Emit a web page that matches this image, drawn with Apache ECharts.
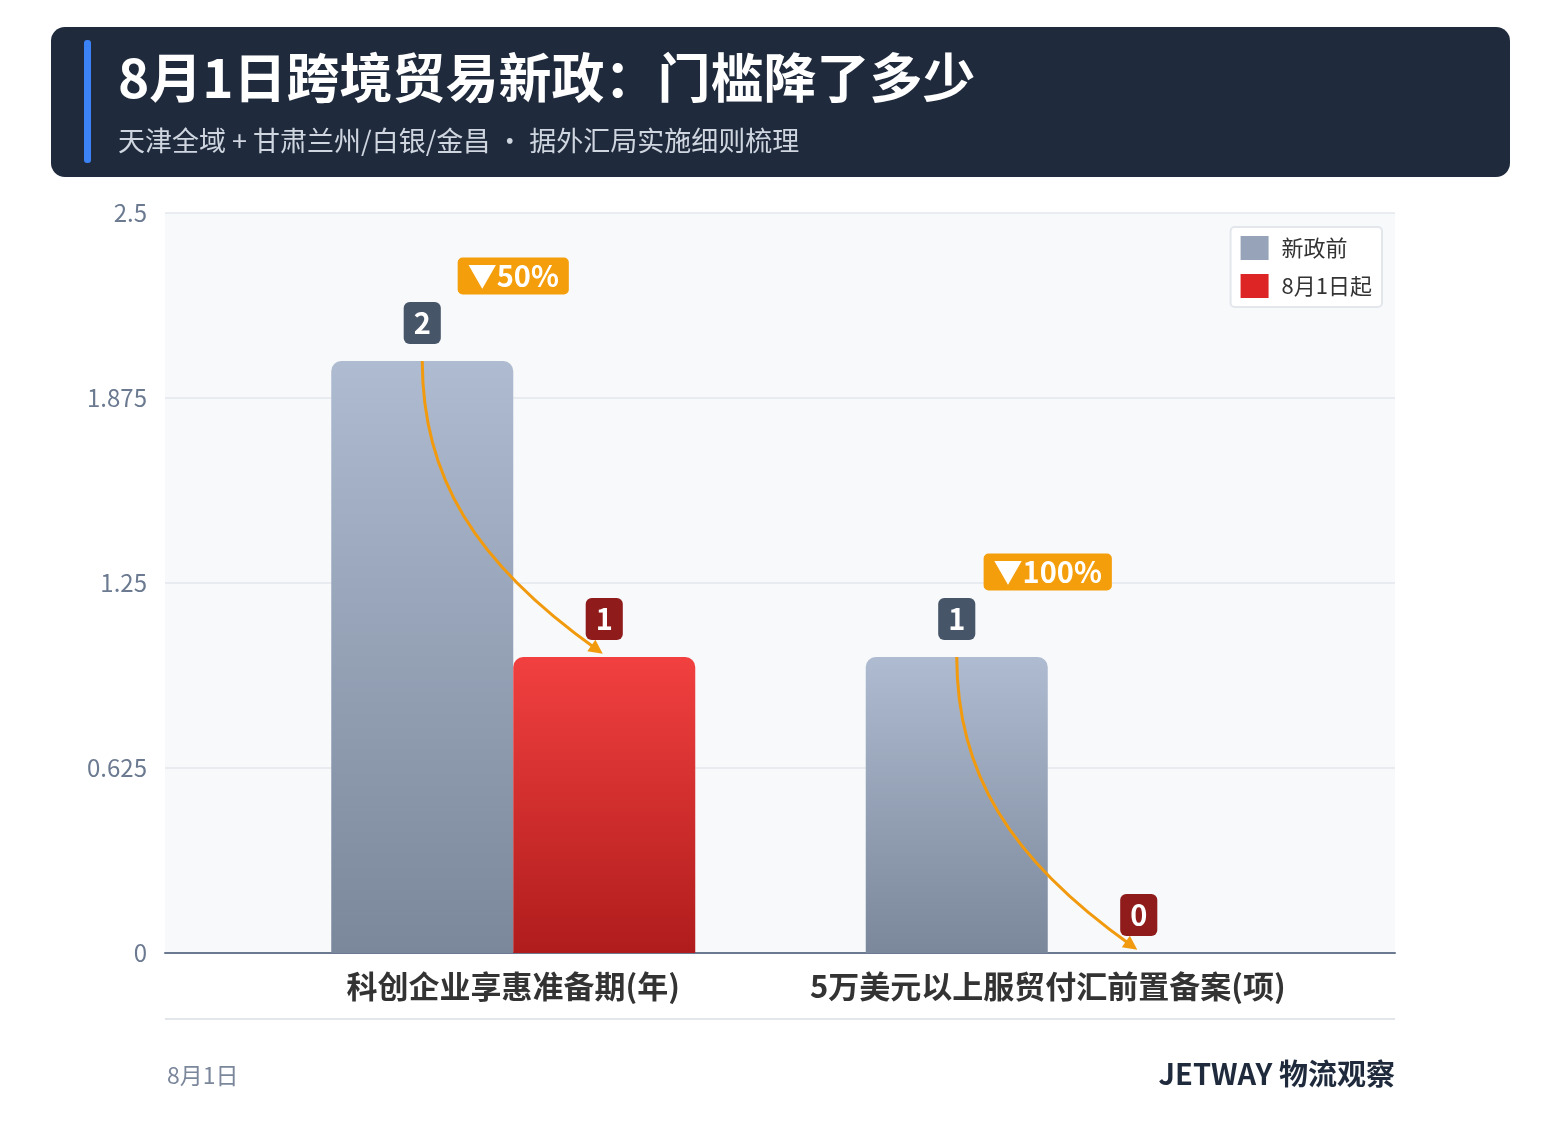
<!DOCTYPE html>
<html lang="zh">
<head>
<meta charset="UTF-8">
<title>8月1日跨境贸易新政</title>
<style>
  *{margin:0;padding:0;box-sizing:border-box;}
  html,body{width:100%;height:100%;background:#fff;}
  #main{width:1561px;height:1145px;}
</style>
</head>
<body>
<div id="main"></div>
<script src="https://cdn.jsdelivr.net/npm/echarts@6/dist/echarts.min.js"></script>
<script>
  // 数据
  var categories = ['科创企业享惠准备期(年)', '5万美元以上服贸付汇前置备案(项)'];
  var beforeValues = [2, 1];
  var afterValues = [1, 0];
  var dropLabels = ['▼50%', '▼100%'];
  var seriesNames = ['新政前', '8月1日起'];

  var FONT = '"Noto Sans CJK SC", "Noto Sans", sans-serif';
  var myChart = echarts.init(document.getElementById('main'));

  function grad(a, b) {
    return new echarts.graphic.LinearGradient(0, 0, 0, 1, [{offset: 0, color: a}, {offset: 1, color: b}]);
  }
  function badge(bg) {
    return {
      show: true, position: 'top', distance: 17,
      formatter: '{c}', color: '#fff', fontSize: 29, fontWeight: 'bold', fontFamily: FONT,
      backgroundColor: bg, borderRadius: 6, padding: [4, 10], lineHeight: 34
    };
  }

  var option = {
    backgroundColor: '#fff',
    animation: false,
    grid: [
      {left: 165, right: 166, top: 213, bottom: 192, backgroundColor: '#f7f9fb', show: true, borderWidth: 0},
      {left: 246, right: 246, top: 213, bottom: 192}
    ],
    legend: {
      right: 179, top: 227, orient: 'vertical', itemWidth: 28, itemHeight: 24, itemGap: 14, icon: 'rect',
      padding: [9, 10, 9, 10], backgroundColor: '#fff', borderColor: '#e3e7ec', borderWidth: 2, borderRadius: 4,
      textStyle: {fontSize: 22, color: '#333', fontFamily: FONT, padding: [0, 0, 0, 8]},
      data: [{name: seriesNames[0], itemStyle: {color: '#96a3b8'}}, {name: seriesNames[1], itemStyle: {color: '#dd2525'}}]
    },
    xAxis: [
      {
        type: 'category', gridIndex: 0, data: [''],
        axisLine: {lineStyle: {color: '#6b7a90', width: 2}},
        axisTick: {show: false}, axisLabel: {show: false}
      },
      {
        type: 'category', gridIndex: 1, data: categories,
        axisLine: {show: false}, axisTick: {show: false},
        axisLabel: {interval: 0, fontSize: 31, fontWeight: 'bold', color: '#333', fontFamily: FONT, margin: 18}
      }
    ],
    yAxis: [
      {
        type: 'value', gridIndex: 0, min: 0, max: 2.5, interval: 0.625,
        axisLine: {show: false}, axisTick: {show: false},
        splitLine: {lineStyle: {color: '#e3e7ec', width: 1.5}},
        axisLabel: {fontSize: 24, color: '#6b7a90', fontFamily: FONT, margin: 18}
      },
      {
        type: 'value', gridIndex: 1, min: 0, max: 2.5, interval: 0.625, show: false
      }
    ],
    series: [
      {
        name: seriesNames[0], type: 'bar', xAxisIndex: 1, yAxisIndex: 1, data: beforeValues, barWidth: 182, barGap: '0%',
        itemStyle: {color: grad('#aebbd0', '#7b879b'), borderRadius: [10, 10, 0, 0]},
        label: badge('#475569')
      },
      {
        name: seriesNames[1], type: 'bar', xAxisIndex: 1, yAxisIndex: 1, data: afterValues, barWidth: 182,
        itemStyle: {color: grad('#f24040', '#b01c1c'), borderRadius: [10, 10, 0, 0]},
        label: badge('#8f1b1b')
      }
    ]
  };
  myChart.setOption(option);

  var graphics = [
    {type: 'rect', shape: {x: 51, y: 27, width: 1459, height: 150, r: 14}, style: {fill: '#1f2a3c'}},
    {type: 'rect', shape: {x: 84, y: 40, width: 7, height: 123, r: 3}, style: {fill: '#3b82f6'}},
    {type: 'text', x: 118, y: 78, style: {text: '8月1日跨境贸易新政：门槛降了多少', fill: '#fff', fontSize: 53, fontWeight: 'bold', fontFamily: FONT, verticalAlign: 'middle'}},
    {type: 'text', x: 118, y: 141, style: {text: '天津全域 + 甘肃兰州/白银/金昌 · 据外汇局实施细则梳理', fill: '#cfd6e0', fontSize: 27, fontFamily: FONT, verticalAlign: 'middle'}},
    {type: 'line', shape: {x1: 165, y1: 1019, x2: 1395, y2: 1019}, style: {stroke: '#e3e7ec', lineWidth: 2}},
    {type: 'text', x: 167, y: 1075, style: {text: '8月1日', fill: '#7b879b', fontSize: 23, fontFamily: FONT, verticalAlign: 'middle'}},
    {type: 'text', x: 1395, y: 1074, style: {text: 'JETWAY 物流观察', fill: '#1f2a3c', fontSize: 29, fontWeight: 'bold', fontFamily: FONT, align: 'right', verticalAlign: 'middle'}}
  ];

  categories.forEach(function (c, i) {
    var p0 = myChart.convertToPixel({seriesIndex: 0}, [i, beforeValues[i]]);
    var p1 = myChart.convertToPixel({seriesIndex: 1}, [i, afterValues[i]]);
    var x0 = p0[0] - 91, y0 = p0[1];
    var x1 = p1[0] + 91 - 8, y1 = p1[1] - 8;
    var dx = x1 - x0, dy = y1 - y0;
    var c2x = x0 + 0.3 * dx, c2y = y1 - 0.3 * dy;
    graphics.push({type: 'bezierCurve', z: 10, shape: {x1: x0, y1: y0, x2: x1, y2: y1, cpx1: x0, cpy1: y0 + 0.4 * dy, cpx2: c2x, cpy2: c2y},
      style: {stroke: '#f29a0e', lineWidth: 3, fill: null}});
    // 箭头
    var ax = x1 - c2x, ay = y1 - c2y, len = Math.sqrt(ax * ax + ay * ay);
    var ux = ax / len, uy = ay / len;
    graphics.push({type: 'polygon', z: 10, shape: {points: [
      [x1 + ux * 8, y1 + uy * 8],
      [x1 - ux * 6 - uy * 7, y1 - uy * 6 + ux * 7],
      [x1 - ux * 6 + uy * 7, y1 - uy * 6 - ux * 7]
    ]}, style: {fill: '#f29a0e'}});
    graphics.push({type: 'text', z: 10, x: x0 + 91, y: y0 - 85, style: {
      text: dropLabels[i], fill: '#fff', fontSize: 29, fontWeight: 'bold', fontFamily: FONT,
      align: 'center', verticalAlign: 'middle', backgroundColor: '#f59e0b', borderRadius: 5, padding: [4, 10]
    }});
  });
  myChart.setOption({graphic: graphics});
</script>
</body>
</html>
